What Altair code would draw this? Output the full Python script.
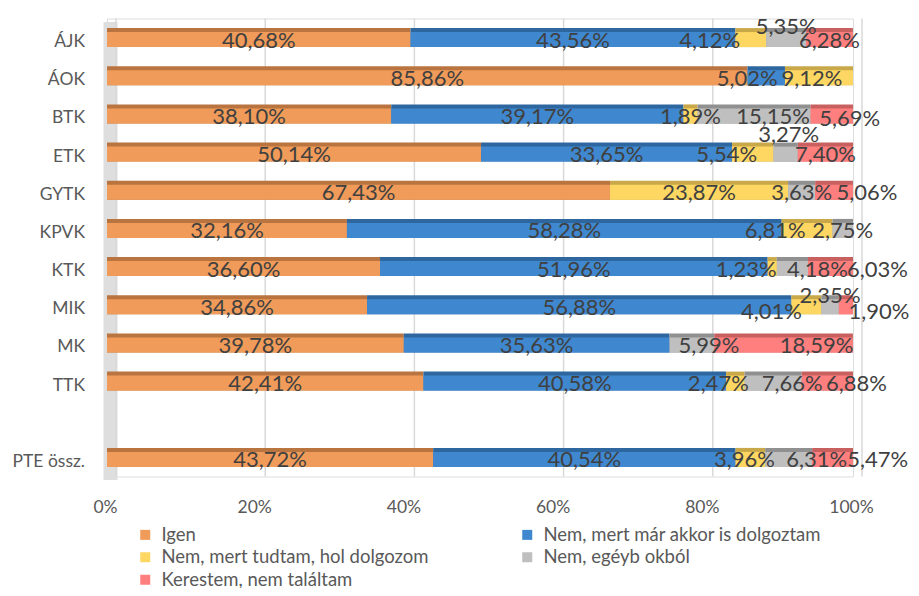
import altair as alt
import pandas as pd

categories = ["ÁJK", "ÁOK", "BTK", "ETK", "GYTK", "KPVK", "KTK", "MIK", "MK", "TTK", " ", "PTE össz."]
faculties = ["ÁJK", "ÁOK", "BTK", "ETK", "GYTK", "KPVK", "KTK", "MIK", "MK", "TTK", "PTE össz."]
series = ["Igen", "Nem, mert már akkor is dolgoztam", "Nem, mert tudtam, hol dolgozom",
          "Nem, egéyb okból", "Kerestem, nem találtam"]

igen = [40.68, 85.86, 38.10, 50.14, 67.43, 32.16, 36.60, 34.86, 39.78, 42.41, 43.72]
dolgoztam = [43.56, 5.02, 39.17, 33.65, 0.00, 58.28, 51.96, 56.88, 35.63, 40.58, 40.54]
tudtam = [4.12, 9.12, 1.89, 5.54, 23.87, 6.81, 1.23, 4.01, 0.00, 2.47, 3.96]
egyeb = [5.35, 0.00, 15.15, 3.27, 3.63, 2.75, 4.18, 2.35, 5.99, 7.66, 6.31]
kerestem = [6.28, 0.00, 5.69, 7.40, 5.06, 0.00, 6.03, 1.90, 18.59, 6.88, 5.47]

tick_values = [0, 20, 40, 60, 80, 100]

colors = ["#F09B59", "#3F88CF", "#FED762", "#BFBFBF", "#FF7F7F"]
dark_colors = ["#B9743F", "#2E679F", "#C9A84A", "#909090", "#C96060"]

# layout: pixel nudges for the small data labels that the original moved aside
label_nudge = {
    ("ÁJK", 2): (-41, 0), ("ÁJK", 3): (0, -14),
    ("ÁOK", 1): (-19, 0), ("ÁOK", 2): (-7, 0),
    ("BTK", 3): (19, 0), ("BTK", 4): (18, 2),
    ("ETK", 2): (-26, 0), ("ETK", 3): (3, -20),
    ("GYTK", 4): (33, 0),
    ("KPVK", 2): (-32, 0),
    ("KTK", 2): (-26, 0), ("KTK", 3): (25, 0), ("KTK", 4): (47, 0),
    ("MIK", 2): (-35, 4), ("MIK", 3): (0, -12), ("MIK", 4): (33, 4),
    ("MK", 3): (17, 0), ("MK", 4): (33, 0),
    ("TTK", 2): (-17, 0), ("TTK", 3): (19, 0), ("TTK", 4): (29, 0),
    ("PTE össz.", 2): (-6, 0), ("PTE össz.", 3): (28, 0), ("PTE össz.", 4): (45, 0),
}

rows = []
for i, fac in enumerate(faculties):
    vals = [igen[i], dolgoztam[i], tudtam[i], egyeb[i], kerestem[i]]
    start = 0.0
    for k, (s, v) in enumerate(zip(series, vals)):
        if v > 0:
            ndx, ndy = label_nudge.get((fac, k), (0, 0))
            rows.append({
                "kar": fac, "valasz": s, "ord": k, "v": v,
                "x0": start, "x1": start + v, "mid": start + v / 2,
                "label": f"{v:.2f}".replace(".", ",") + "%",
                "ndx": ndx, "ndy": ndy,
            })
        start += v
df = pd.DataFrame(rows)
grid_df = pd.DataFrame({"t": tick_values})

FONT = "Lato"
yenc = alt.Y("kar:N", scale=alt.Scale(domain=categories, paddingInner=0, paddingOuter=0),
             axis=alt.Axis(title=None, ticks=False, labelPadding=25.5, labelFontSize=17.5,
                           labelFont=FONT, labelColor="#595959", domainColor="#DEDEDE",
                           domainWidth=14, translate=3.5, labelOffset=1.5, grid=False))
xscale = alt.Scale(domain=[0, 100], nice=False)
xaxis = alt.Axis(title=None, values=tick_values, labelExpr="datum.value + '%'",
                 ticks=False, domain=False, grid=False, labelFlush=False, labelOffset=-2,
                 labelPadding=22, labelFontSize=17.5, labelFont=FONT, labelColor="#595959")

base = alt.Chart(df)

gridlines = alt.Chart(grid_df).mark_rule(xOffset=9, color="#D9D9D9", strokeWidth=1.5).encode(
    x=alt.X("t:Q", scale=xscale, axis=xaxis),
)

top_face = base.mark_bar(size=19).encode(
    y=yenc,
    x=alt.X("x0:Q", scale=xscale, axis=xaxis),
    x2="x1:Q",
    color=alt.Color("valasz:N", scale=alt.Scale(domain=series, range=dark_colors), legend=None),
    order="ord:Q",
)

front = base.mark_bar(size=15, yOffset=2).encode(
    y=yenc,
    x=alt.X("x0:Q", scale=xscale, axis=xaxis),
    x2="x1:Q",
    color=alt.Color("valasz:N", scale=alt.Scale(domain=series, range=colors),
                    legend=alt.Legend(title=None, orient="none", legendX=29, legendY=507,
                                      direction="horizontal", columns=2, symbolType="square",
                                      symbolSize=100, symbolStrokeWidth=0, labelFont=FONT,
                                      labelFontSize=18.5, labelColor="#595959", labelOffset=7,
                                      rowPadding=3.5, columnPadding=89, padding=0,
                                      labelLimit=400)),
    order="ord:Q",
)

label_layers = []
for (ndx, ndy) in sorted(set(zip(df["ndx"], df["ndy"]))):
    label_layers.append(
        base.transform_filter((alt.datum.ndx == int(ndx)) & (alt.datum.ndy == int(ndy)))
        .mark_text(fontSize=22, font=FONT, color="#404040", align="center",
                   baseline="middle", yOffset=3, dx=int(ndx), dy=int(ndy))
        .encode(
            y=yenc,
            x=alt.X("mid:Q", scale=xscale, axis=xaxis),
            text="label:N",
        )
    )

chart = alt.layer(gridlines, top_face, front, *label_layers).resolve_scale(
    color="independent"
).properties(
    width=746, height=458,
    autosize=alt.AutoSizeParams(type="none"),
    padding={"left": 99, "top": 10.5, "right": 58, "bottom": 111},
).configure_view(stroke=None).configure(background="white")

chart.save("out.html", embed_options={"renderer": "svg", "actions": False})
